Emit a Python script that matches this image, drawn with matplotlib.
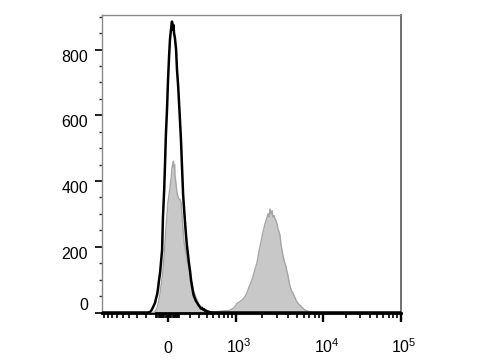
import numpy as np
import matplotlib
matplotlib.use("Agg")
import matplotlib.pyplot as plt
from matplotlib.transforms import ScaledTranslation

plt.rcParams['font.family'] = ['Liberation Sans', 'DejaVu Sans']
plt.rcParams['mathtext.fontset'] = 'custom'
plt.rcParams['mathtext.rm'] = 'Liberation Sans'
plt.rcParams['mathtext.it'] = 'Liberation Sans'

# ---- data (display channel 0..1024, event counts) ----
control_channel = [0, 147, 158, 165, 168, 171, 175, 178, 182, 185, 189, 192, 195, 199, 202,
                   206, 209, 213, 216, 219, 223, 226, 230, 233, 237, 240, 242, 245, 247, 250,
                   254, 257, 261, 264, 267, 271, 274, 278, 281, 285, 288, 291, 295, 298, 302,
                   305, 309, 312, 315, 319, 322, 326, 329, 333, 336, 339, 343, 346, 350, 353,
                   357, 360, 363, 370, 377, 1024]
control_count = [0, 0, 0, 2, 5, 9, 16, 22, 30, 42, 55, 72, 95, 120, 150,
                 190, 290, 370, 450, 540, 620, 700, 780, 830, 865, 885, 860, 875, 850, 835,
                 800, 740, 690, 640, 590, 520, 450, 360, 320, 270, 235, 205, 175, 150, 125,
                 100, 78, 62, 50, 42, 35, 30, 25, 20, 17, 12, 14, 9, 10, 5,
                 6, 2, 3, 1, 0, 0]

stained_channel = [0, 178, 182, 185, 189, 192, 195, 199, 202, 206, 209, 213, 216, 219, 223,
                   226, 230, 233, 237, 240, 243, 245, 247, 249, 250, 254, 257, 261, 264, 267,
                   271, 274, 278, 281, 285, 288, 291, 295, 298, 302, 305, 309, 312, 315, 319,
                   322, 326, 329, 333, 336, 339, 343, 346, 350, 353, 357, 360, 367, 377, 387,
                   398, 408, 418, 429, 439, 449, 456, 463, 473, 483, 490, 497, 504, 511, 518,
                   524, 531, 538, 545, 552, 559, 566, 569, 572, 576, 579, 583, 586, 590, 593,
                   596, 600, 603, 607, 610, 614, 617, 620, 624, 627, 631, 634, 638, 641, 644,
                   648, 651, 655, 658, 662, 665, 668, 672, 675, 679, 686, 692, 699, 706, 713,
                   723, 1024]
stained_count = [0, 0, 3, 8, 15, 25, 38, 58, 80, 105, 130, 175, 215, 255, 300,
                 335, 360, 380, 410, 440, 455, 460, 440, 450, 420, 390, 365, 350, 345, 345,
                 335, 300, 250, 215, 195, 180, 165, 150, 138, 120, 100, 85, 72, 62, 55,
                 45, 38, 30, 24, 18, 14, 11, 9, 7, 6, 4, 3, 2, 3, 2,
                 3, 4, 5, 5, 7, 12, 18, 28, 33, 40, 48, 60, 78, 92, 110,
                 130, 150, 185, 215, 245, 270, 290, 300, 290, 315, 300, 310, 290, 295, 285,
                 280, 270, 255, 245, 235, 205, 190, 175, 160, 150, 140, 125, 110, 95, 82,
                 70, 64, 59, 52, 45, 38, 33, 28, 25, 22, 15, 10, 6, 4, 2,
                 0, 0]

y_major = [0, 200, 400, 600, 800]
y_minor = [50, 100, 150, 250, 300, 350, 450, 500, 550, 650, 700, 750, 850, 900]
x_major_values = [0, 1e3, 1e4, 1e5]
x_major_labels = ['0', r'$10^3$', r'$10^4$', r'$10^5$']
x_minor_values = ([-m * 100 for m in range(1, 10)] + [-m * 10 for m in range(1, 10)] +
                  [m * 10 for m in range(1, 10)] + [m * 100 for m in range(1, 10)] +
                  [m * 1000 for m in range(2, 10)] + [m * 10000 for m in range(2, 10)])

# ---- biexponential display transform (value -> channel) ----
COF = 300.0
_anchor_v = np.array([-1e3, 0.0, 1e3, 1e4, 1e5])
_anchor_ch = np.array([-6.0, 226.0, 458.0, 758.0, 1024.0])


def to_channel(v):
    u = np.arcsinh(np.asarray(v, dtype=float) / COF)
    return np.interp(u, np.arcsinh(_anchor_v / COF), _anchor_ch)


fig = plt.figure(figsize=(4.8, 3.6), dpi=100)
ax = fig.add_axes([102 / 480, 1 - 312.5 / 360, (400.7 - 102) / 480, (312.5 - 15) / 360])

ax.fill_between(stained_channel, stained_count, 0, color='#c8c8c8', lw=0, zorder=2)
ax.plot(stained_channel, stained_count, color='#a5a5a5', lw=1.0, zorder=3)
ax.plot(control_channel, control_count, color='black', lw=1.8, zorder=4)

ax.set_xlim(0, 1024)
ax.set_ylim(0, 905)

ax.set_yticks(y_major)
ax.set_yticks(y_minor, minor=True)
ax.set_yticklabels([str(v) for v in y_major])
ax.set_xticks(to_channel(x_major_values))
ax.set_xticklabels(x_major_labels)
ax.set_xticks(to_channel(x_minor_values), minor=True)

ax.tick_params(axis='y', which='major', length=5, width=1.4, pad=5, labelsize=11.5, color='#222222')
ax.tick_params(axis='y', which='minor', length=2.3, width=1.0, color='#333333')
ax.tick_params(axis='x', which='major', length=6.5, width=1.7, pad=23, labelsize=11.5)
ax.tick_params(axis='x', which='minor', length=3.5, width=1.2)

for s in ['left', 'top', 'right']:
    ax.spines[s].set_color('#8a8a8a')
    ax.spines[s].set_linewidth(1.0)
ax.spines['right'].set_linewidth(1.4)
ax.spines['right'].set_color('#707070')
ax.spines['bottom'].set_color('black')
ax.spines['bottom'].set_linewidth(2.0)

yt = ax.yaxis.get_major_ticks()
for t in yt:
    t.label1.set_verticalalignment('top')
yt[0].label1.set_verticalalignment('bottom')

shift = ScaledTranslation(3.6 / 100, 0, fig.dpi_scale_trans)
for i, t in enumerate(ax.xaxis.get_major_ticks()):
    t.label1.set_verticalalignment('baseline')
    if i > 0:
        t.label1.set_transform(t.label1.get_transform() + shift)

fig.savefig('out.png', dpi=100)
